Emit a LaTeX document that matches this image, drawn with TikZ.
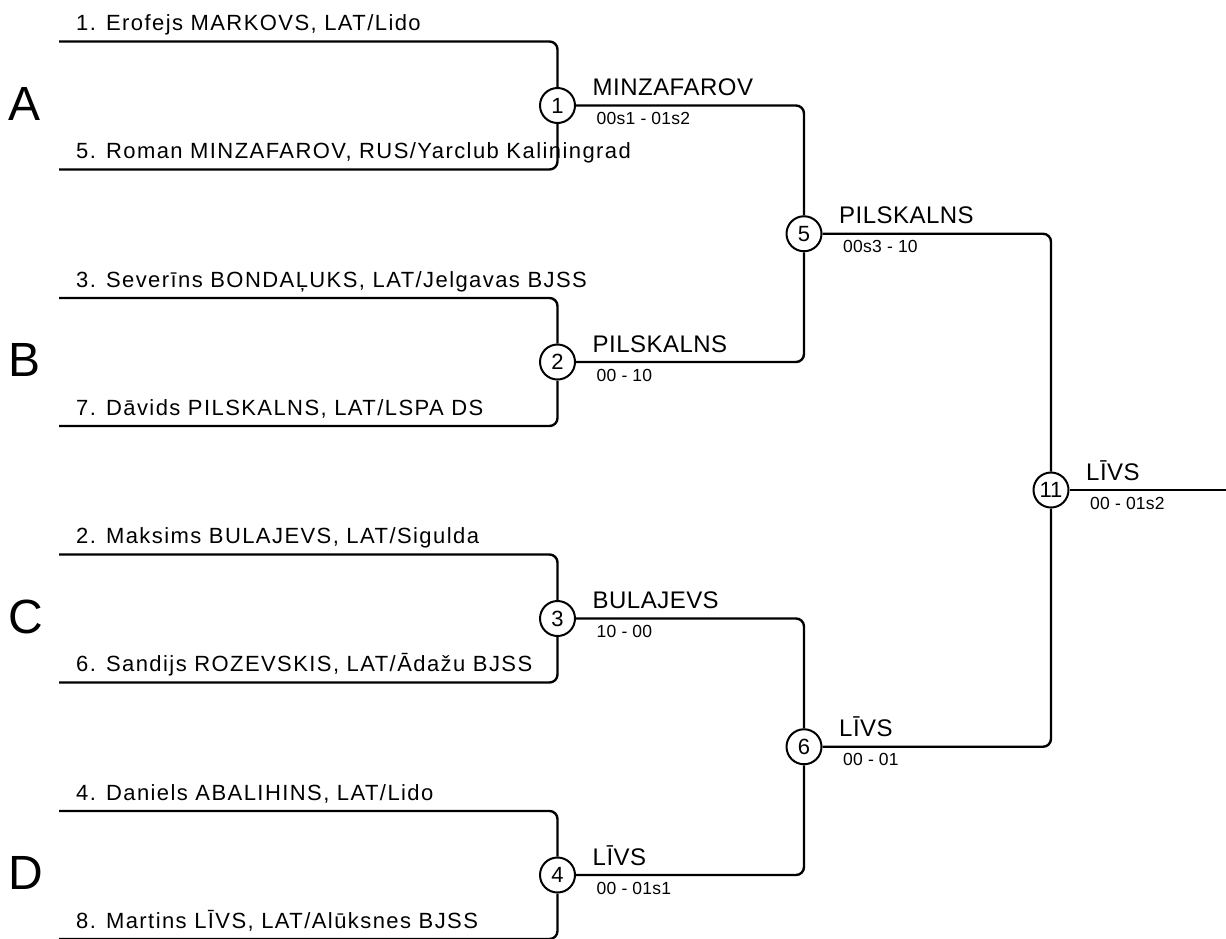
\documentclass[tikz,border=0pt]{standalone}
\usepackage{fontspec}
\setmainfont{Liberation Sans}
\newfontfamily\namefont[LetterSpace=6.5]{Liberation Sans}
\newfontfamily\winfont[LetterSpace=2]{Liberation Sans}
\newfontfamily\scorefont[LetterSpace=1.5]{Liberation Sans}
\usetikzlibrary{calc}
\begin{document}
\begin{tikzpicture}[x=1pt,y=-1pt,
  bline/.style={line width=2.4pt, rounded corners=8pt},
  match/.style={circle, draw, line width=2pt, minimum size=35pt, inner sep=0pt, font=\fontsize{22}{22}\selectfont},
  pname/.style={anchor=base west, inner sep=0pt, font=\namefont\fontsize{22}{26}\selectfont},
  win/.style={anchor=base west, inner sep=0pt, font=\winfont\fontsize{24}{28}\selectfont},
  score/.style={anchor=base west, inner sep=0pt, font=\scorefont\fontsize{17.5}{20}\selectfont},
  grp/.style={anchor=base west, inner sep=0pt, font=\fontsize{48}{50}\selectfont}]
\useasboundingbox (0,0) rectangle (1226,938);

% group letters
\node[grp] (gA) at (8,120) {A};
\node[grp] (gB) at (8,376.5) {B};
\node[grp] (gC) at (8,633) {C};
\node[grp] (gD) at (8,889.5) {D};

% match circles
\node[match] (m1) at (557.5,105.5) {1};
\node[match] (m2) at (557.5,362) {2};
\node[match] (m3) at (557.5,618.5) {3};
\node[match] (m4) at (557.5,875) {4};
\node[match] (m5) at (804,233.75) {5};
\node[match] (m6) at (804,746.75) {6};
\node[match] (m11) at (1051,490) {11};

% player names
\node[pname] (n1) at (76,30.5) {1. Erofejs MARKOVS, LAT/Lido};
\node[pname] (n5) at (76,158.5) {5. Roman MINZAFAROV, RUS/Yarclub Kaliningrad};
\node[pname] (n3) at (76,287) {3. Severīns BONDAĻUKS, LAT/Jelgavas BJSS};
\node[pname] (n7) at (76,415) {7. Dāvids PILSKALNS, LAT/LSPA DS};
\node[pname] (n2) at (76,543.5) {2. Maksims BULAJEVS, LAT/Sigulda};
\node[pname] (n6) at (76,671.5) {6. Sandijs ROZEVSKIS, LAT/Ādažu BJSS};
\node[pname] (n4) at (76,800) {4. Daniels ABALIHINS, LAT/Lido};
\node[pname] (n8) at (76,928) {8. Martins LĪVS, LAT/Alūksnes BJSS};

% line starts
\coordinate (s1) at (59,41.5);
\coordinate (s5) at (59,169.5);
\coordinate (s3) at (59,298);
\coordinate (s7) at (59,426);
\coordinate (s2) at (59,554.5);
\coordinate (s6) at (59,682.5);
\coordinate (s4) at (59,811);
\coordinate (s8) at (59,939);
\coordinate (fin) at (1226,490);

% winners and scores
\node[win] (w1) at ($(m1.center)+(35,-10)$) {MINZAFAROV};
\node[score] (r1) at ($(m1.center)+(39,19)$) {00s1 - 01s2};
\node[win] (w2) at ($(m2.center)+(35,-10)$) {PILSKALNS};
\node[score] (r2) at ($(m2.center)+(39,19)$) {00 - 10};
\node[win] (w3) at ($(m3.center)+(35,-10)$) {BULAJEVS};
\node[score] (r3) at ($(m3.center)+(39,19)$) {10 - 00};
\node[win] (w4) at ($(m4.center)+(35,-10)$) {LĪVS};
\node[score] (r4) at ($(m4.center)+(39,19)$) {00 - 01s1};
\node[win] (w5) at ($(m5.center)+(35,-10)$) {PILSKALNS};
\node[score] (r5) at ($(m5.center)+(39,19)$) {00s3 - 10};
\node[win] (w6) at ($(m6.center)+(35,-10)$) {LĪVS};
\node[score] (r6) at ($(m6.center)+(39,19)$) {00 - 01};
\node[win] (w11) at ($(m11.center)+(35,-10)$) {LĪVS};
\node[score] (r11) at ($(m11.center)+(39,19)$) {00 - 01s2};

% bracket lines
\draw[bline] (s1) -| (m1);
\draw[bline] (s5) -| (m1);
\draw[bline] (s3) -| (m2);
\draw[bline] (s7) -| (m2);
\draw[bline] (s2) -| (m3);
\draw[bline] (s6) -| (m3);
\draw[bline] (s4) -| (m4);
\draw[bline] (s8) -| (m4);
\draw[bline] (m1) -| (m5);
\draw[bline] (m2) -| (m5);
\draw[bline] (m3) -| (m6);
\draw[bline] (m4) -| (m6);
\draw[bline] (m5) -| (m11);
\draw[bline] (m6) -| (m11);
\draw[bline] (m11) -- (fin);
\end{tikzpicture}
\end{document}
